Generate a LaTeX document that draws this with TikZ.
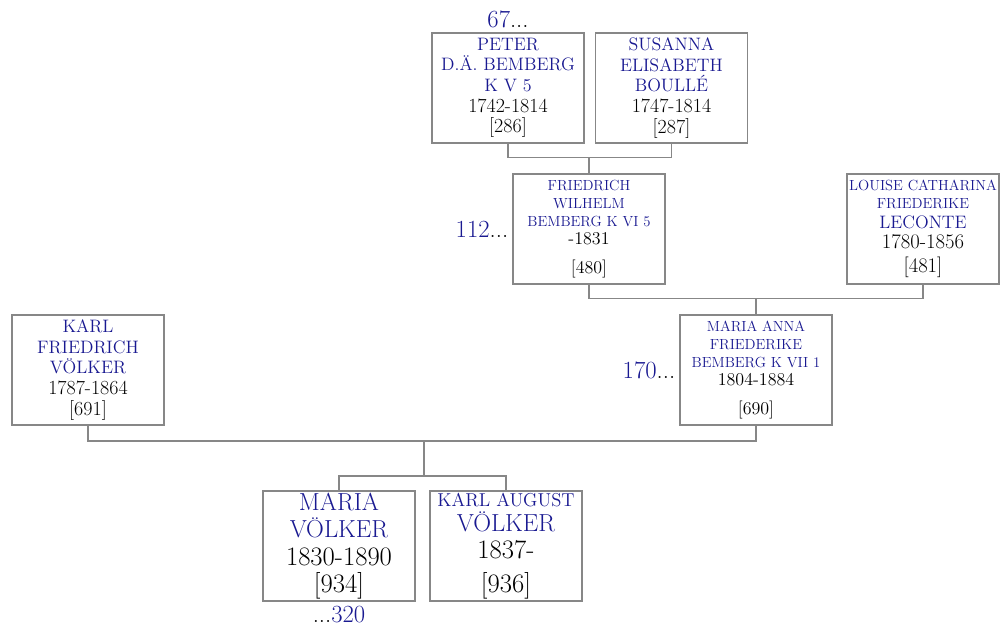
\documentclass[tikz,border=0pt]{standalone}
\usepackage{tikz}
\usetikzlibrary{positioning}
\definecolor{namecol}{RGB}{25,25,145}
\definecolor{boxgray}{RGB}{135,135,135}
\tikzset{pers/.style={draw=boxgray,line width=0.8pt,fill=white,minimum width=114pt,
           minimum height=82.5pt,inner sep=1pt,align=center},
  yr/.code={\def\yrsz{#1}},
  big/.style={font=\fontsize{13.5}{15.5}\selectfont,yr=15},
  small/.style={font=\fontsize{11}{13.5}\selectfont,yr=13.5},
  huge/.style={font=\fontsize{18.5}{20.5}\selectfont,yr=20},
  link/.style={draw=boxgray,line width=0.8pt},
  ref/.style={font=\fontsize{18.5}{20}\selectfont,inner sep=0pt}
         }
\newcommand{\nm}[1]{\textcolor{namecol}{#1}}
\newcommand{\yr}[1]{{\fontsize{\yrsz}{\yrsz}\selectfont #1}}
\begin{document}
\begin{tikzpicture}[x=0.75pt,y=-0.75pt]
        \useasboundingbox (0,0) rectangle (1004,628);
        % generation 1
        \node[pers,big] (P1) at (508,88) {\nm{PETER}\\\nm{D.Ä. BEMBERG}\\\nm{K V 5}\\\yr{1742-1814}\\\yr{[286]}};
        \node[pers,big] (P2) at (671.5,88) {\nm{SUSANNA}\\\nm{ELISABETH}\\\nm{BOULLÉ}\\\yr{1747-1814}\\\yr{[287]}};
        % generation 2
        \node[pers,small] (F1) at (589,229) {\nm{FRIEDRICH}\\\nm{WILHELM}\\\nm{BEMBERG K VI 5}\\\yr{-1831}\\[8pt]\yr{[480]}};
        \node[pers,small,yr=15.5] (F2) at (923,229) {\nm{LOUISE CATHARINA}\\\nm{FRIEDERIKE}\\[1pt]
          \nm{\fontsize{13.5}{15}\selectfont LECONTE}\\[2pt]\yr{1780-1856}\\[4pt]\yr{[481]}};
        % generation 3
        \node[pers,big] (M1) at (88,370) {\nm{KARL}\\\nm{FRIEDRICH}\\\nm{VÖLKER}\\\yr{1787-1864}\\\yr{[691]}};
        \node[pers,small] (M2) at (756,370) {\nm{MARIA ANNA}\\\nm{FRIEDERIKE}\\\nm{BEMBERG K VII 1}\\\yr{1804-1884}\\[8pt]\yr{[690]}};
        % generation 4
        \node[pers,huge] (C1) at (339,546) {\nm{MARIA}\\\nm{VÖLKER}\\\yr{1830-1890}\\\yr{[934]}};
        \node[pers,huge] (C2) at (506,546) {\nm{\fontsize{14}{15}\selectfont KARL AUGUST}\\[-2pt]\nm{VÖLKER}\\\yr{1837-}\\[5pt]\yr{[936]}};
        % references
        \node[ref,above=3pt of P1] (R67) {\nm{67}...};
        \node[ref,left=3pt of F1] (R112) {\nm{112}...};
        \node[ref,left=3pt of M2] (R170) {\nm{170}...};
        \node[ref,below=3pt of C1] (R320) {...\nm{320}};
        % connectors
        \coordinate (J1) at ([yshift=12pt]F1.north);
        \coordinate (J2) at ([yshift=12pt]M2.north);
        \coordinate (J3) at (424,441);
        \coordinate (J4) at (424,476);
        \draw[link] (P1.south) |- (J1) -| (P2.south);
        \draw[link] (J1) -- (F1.north);
        \draw[link] (F1.south) |- (J2) -| (F2.south);
        \draw[link] (J2) -- (M2.north);
        \draw[link] (M1.south) |- (J3) -| (M2.south);
        \draw[link] (J3) -- (J4);
        \draw[link] (C1.north) |- (J4) -| (C2.north);
\end{tikzpicture}
\end{document}
